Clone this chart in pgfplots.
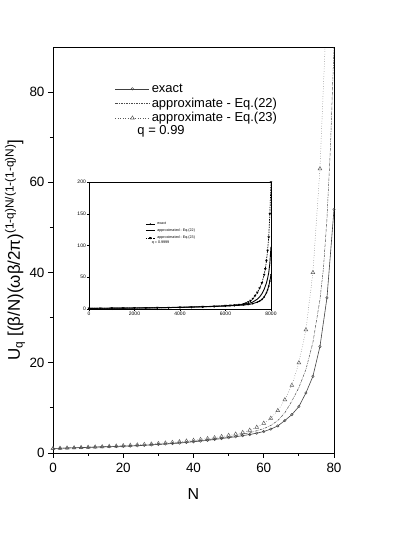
\documentclass[border=0pt]{standalone}
\usepackage{fontspec}
\setmainfont{Liberation Sans}
\usepackage{pgfplots}
\pgfplotsset{compat=1.18}
\usepackage{pgfplotstable}

% main plot, q = 0.99
\pgfplotstableread{
N U
0 1.0
2 1.05
4 1.1
6 1.15
8 1.2
10 1.25
12 1.3
14 1.35
16 1.4
18 1.45
20 1.5
22 1.55
24 1.62
26 1.7
28 1.8
30 1.9
32 2.0
34 2.1
36 2.2
38 2.35
40 2.5
42 2.65
44 2.8
46 3.0
48 3.2
50 3.4
52 3.6
54 3.85
56 4.1
58 4.4
60 4.75
62 5.3
64 6.0
66 7.2
68 8.5
70 10.3
72 13.3
74 17.0
76 23.6
78 34.4
80 54.0
}\exact

\pgfplotstableread{
N U
0 1.0
4 1.1
8 1.2
12 1.32
16 1.43
20 1.55
24 1.67
28 1.85
32 2.05
36 2.3
40 2.6
44 2.95
48 3.35
52 3.85
56 4.5
60 5.4
62 6.1
64 7.2
66 8.9
68 11.5
70 14.5
72 18.5
74 24.5
76 34.0
77 41.0
78 52.0
79 68.0
80 90.0
}\eqtt

\pgfplotstableread{
N U
0 1.0
2 1.05
4 1.1
6 1.15
8 1.22
10 1.28
12 1.34
14 1.4
16 1.47
18 1.54
20 1.62
22 1.7
24 1.8
26 1.9
28 2.0
30 2.1
32 2.22
34 2.35
36 2.5
38 2.65
40 2.8
42 3.0
44 3.2
46 3.4
48 3.65
50 3.9
52 4.2
54 4.55
56 5.05
58 5.7
60 6.6
62 7.7
64 9.4
66 11.8
68 15.0
70 20.0
72 27.3
74 40.0
76 63.0
78 100.0
}\eqtth

% inset, q = 0.9999
\pgfplotstableread{
N U
0 1.0
1000 1.25
2000 1.5
3000 1.9
4000 2.5
5000 3.4
5500 4.0
6000 4.7
6400 5.4
6800 6.3
7000 7.0
7200 8.4
7400 10.8
7500 12.5
7600 15.0
7700 19.0
7800 25.5
7850 30.0
7900 36.0
7950 44.0
8000 54.0
}\iexact

\pgfplotstableread{
N U
0 1.0
1000 1.3
2000 1.6
3000 2.0
4000 2.7
5000 3.6
5500 4.3
6000 5.1
6400 6.0
6800 7.2
7000 8.5
7200 11.0
7400 15.5
7500 19.0
7600 24.0
7700 31.0
7800 41.0
7850 48.0
7900 57.0
7950 72.0
8000 98.0
}\ieqtt

\pgfplotstableread{
N U
0 1.0
500 1.15
1000 1.3
1500 1.45
2000 1.6
2500 1.8
3000 2.0
3500 2.3
4000 2.7
4500 3.1
5000 3.6
5500 4.3
6000 5.2
6200 5.6
6400 6.3
6600 7.0
6800 8.0
6900 9.2
7000 11.0
7100 13.0
7200 16.5
7300 21.0
7400 26.0
7500 33.0
7600 41.0
7700 54.0
7750 63.0
7800 76.0
7850 92.0
7900 113.0
7950 150.0
8000 200.0
}\ieqtth

\begin{document}
\begin{tikzpicture}
\path[use as bounding box] (-53bp,-97bp) rectangle (340bp,453bp);
\begin{axis}[
    at={(0,0)}, anchor=south west,
    scale only axis, width=281bp, height=406bp,
    xmin=0, xmax=80, ymin=0, ymax=90,
    xtick={0,20,...,80}, ytick={0,20,...,80},
    minor tick num=1,
    tick align=outside, xtick pos=left, ytick pos=left,
    major tick length=5bp, minor tick length=3bp,
    tick style={black, line width=0.8pt},
    axis line style={line width=0.8pt},
    ticklabel style={font=\fontsize{13.5}{15}\selectfont},
    xticklabel style={yshift=-2bp},
    /pgf/number format/assume math mode=true,
    xlabel={N},
    xlabel style={font=\fontsize{16}{18}\selectfont, at={(axis description cs:0.5,-0.101)}, anchor=center},
    ylabel={U\textsubscript{q} [(β/N)(ωβ/2π)\textsuperscript{(1-q)N/(1-(1-q)N)}]},
    ylabel style={font=\fontsize{17}{19}\selectfont, at={(axis description cs:-0.135,0.5)}, anchor=center},
    legend style={draw=none, fill=none, at={(axis description cs:0.217,0.917)}, anchor=north west,
        font=\fontsize{13}{15}\selectfont, row sep=0bp, inner sep=1bp},
    legend cell align=left,
    legend image code/.code={\draw[mark repeat=2, mark phase=2, #1] plot coordinates {(0bp,0bp) (17bp,0bp) (34bp,0bp)};},
]
\addplot[black!75, line width=0.6pt, mark=o, mark size=1.3pt, mark options={solid, line width=0.4pt}] table[x=N, y=U] {\exact};
\addlegendentry{exact}
\addplot[black!70, line width=0.5pt, dash pattern=on 2.5pt off 1pt on 0.6pt off 1pt] table[x=N, y=U] {\eqtt};
\addlegendentry{approximate - Eq.(22)}
\addplot[black!65, line width=0.5pt, dotted, mark=triangle, mark size=2.2pt, mark options={solid, line width=0.45pt}] table[x=N, y=U] {\eqtth};
\addlegendentry{approximate - Eq.(23)}
\node[anchor=west, inner sep=0pt, font=\fontsize{13}{15}\selectfont] at (axis cs:24,71.4) {q = 0.99};
\end{axis}

\begin{axis}[
    at={(36bp,144bp)}, anchor=south west,
    scale only axis, width=182bp, height=127bp,
    xmin=0, xmax=8000, ymin=0, ymax=200,
    xtick={0,2000,...,8000}, ytick={0,50,...,200},
    minor x tick num=1,
    tick align=outside, xtick pos=left, ytick pos=left,
    major tick length=2bp, minor tick length=1.2bp,
    tick style={black, line width=0.4pt},
    axis line style={line width=0.5pt},
    ticklabel style={font=\fontsize{5}{6}\selectfont, inner sep=1pt},
    scaled x ticks=false,
    xticklabel style={/pgf/number format/1000 sep={}},
    /pgf/number format/assume math mode=true,
    legend style={draw=none, fill=none, at={(axis cs:2450,141)}, anchor=north west,
        font=\fontsize{3.7}{4.2}\selectfont, row sep=-1.2bp, inner sep=0.5bp},
    legend cell align=left,
    legend image code/.code={\draw[mark repeat=2, mark phase=2, #1] plot coordinates {(0bp,0bp) (4.5bp,0bp) (9bp,0bp)};},
]
\addplot[black, line width=0.9pt, mark=*, mark size=0.3pt] table[x=N, y=U] {\iexact};
\addlegendentry{exact}
\addplot[black, line width=0.9pt] table[x=N, y=U] {\ieqtt};
\addlegendentry{approximated - Eq.(22)}
\addplot[black, line width=0.7pt, dash pattern=on 1.5pt off 1pt, mark=triangle*, mark size=0.8pt, mark options={solid, rotate=180}] table[x=N, y=U] {\ieqtth};
\addlegendentry{approximated - Eq.(23)}
\node[anchor=west, inner sep=0pt, font=\fontsize{3.7}{4.2}\selectfont] at (axis cs:2750,104) {q = 0.9999};
\end{axis}
\end{tikzpicture}
\end{document}
